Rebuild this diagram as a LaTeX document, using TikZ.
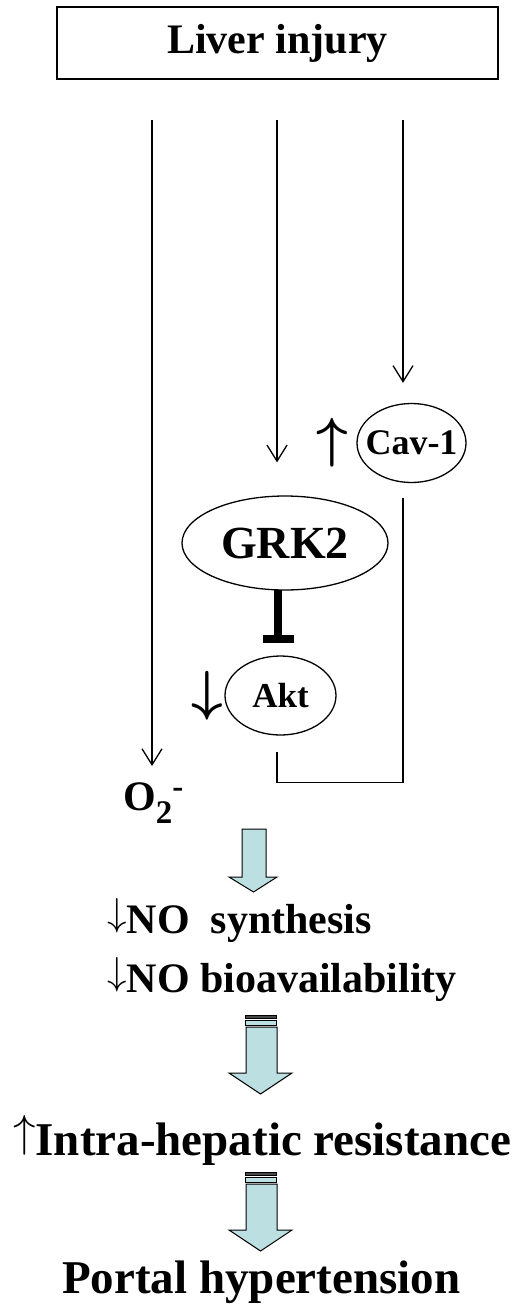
\documentclass[tikz,border=0pt]{standalone}
\usepackage{fontspec}
\setmainfont{Liberation Serif}
\usetikzlibrary{positioning, arrows.meta, shapes.geometric, calc}
\definecolor{paleblue}{RGB}{188, 223, 225}
\definecolor{stripegray}{RGB}{72, 72, 72}
\newcommand{\fallmark}{\raisebox{7.5pt}{\normalsize\scalebox{3.9}{$\downarrow$}}}
\newcommand{\risemark}{\raisebox{8.5pt}{\normalsize\scalebox{4.5}{$\uparrow$}}}

\begin{document}
\begin{tikzpicture}[x=1pt, y=-1pt,
    bigtext/.style={font=\fontsize{42}{48}\selectfont\bfseries, inner sep=0pt},
    hugetext/.style={font=\fontsize{47}{52}\selectfont\bfseries, inner sep=0pt},
    moltext/.style={font=\fontsize{36}{40}\selectfont\bfseries, inner sep=0pt},
    mol/.style={ellipse, draw, line width=1.3pt, inner sep=0pt},
    arrow/.style={-{Straight Barb[length=16pt, width=20pt, line width=1.3pt]}, line width=1.3pt},
    line/.style={line width=1.3pt},
    updown/.style={font=\normalsize\boldmath, inner sep=0pt},
    inhibit/.style={-{Bar[width=31pt]}, line width=8pt},
    blockarrow/.style={draw, fill=paleblue, line width=1pt, line join=miter}
]
    \useasboundingbox (0,0) rectangle (521,1306);

    % Top box
    \node[draw, line width=1.8pt, minimum width=441pt, minimum height=72pt, bigtext] (injury) at (277.5,43) {Liver injury};

    % Molecules
    \node[mol, minimum width=109pt, minimum height=79pt, label={[moltext]center:Cav-1}] (cav) at (411.5,443) {};
    \node[mol, minimum width=206pt, minimum height=94pt, label={[moltext, font=\fontsize{46}{50}\selectfont\bfseries]center:GRK2}] (grk) at (285,543) {};
    \node[mol, minimum width=111pt, minimum height=79pt, label={[moltext, font=\fontsize{35}{40}\selectfont\bfseries]center:Akt}] (akt) at (280.5,695.5) {};
    \node[updown] (cavup) at (332,443) {\scalebox{5.5}{$\uparrow$}};
    \node[updown] (aktdown) at (207,696) {\scalebox{5.5}{$\downarrow$}};
    \node[bigtext, anchor=base west] (superox) at (123,810) {O\raisebox{-13pt}{\fontsize{33}{33}\selectfont 2}\raisebox{13pt}{\fontsize{33}{33}\selectfont -}};

    % Arrows from liver injury
    \coordinate (s1) at (152,120);
    \coordinate (s2) at (277,120);
    \coordinate (s3) at (403,120);
    \draw[arrow, shorten >=16pt] (s1) -- (s1 |- superox.north);
    \draw[arrow, shorten >=33pt] (s2) -- (s2 |- grk.north);
    \draw[arrow, shorten >=20pt] (s3) -- (s3 |- cav.north);

    % GRK2 inhibits Akt, Akt feeds back to Cav-1 branch
    \draw[inhibit] (278,590) -- ($(akt.north)+(-2.5,-12)$);
    \draw[line] ($(s3 |- cav.south)+(0,15)$) -- ($(s3 |- cav.south)+(0,299)$) -| ($(s2 |- akt.south)+(0,16)$);

    % Outcome chain
    \node[bigtext, anchor=base west] (nosyn) at (107,933) {\fallmark NO\ \ synthesis};
    \node[bigtext, anchor=base west] (nobio) at (107,992) {\fallmark NO bioavailability};
    \node[hugetext, anchor=base west] (resist) at (13,1155) {\risemark Intra-hepatic resistance};
    \node[hugetext, anchor=base west] (portal) at (62,1293) {Portal hypertension};

    \draw[blockarrow] (242,829) -- (266,829) -- (266,877) -- (277,877) -- (253.5,892) -- (229,877) -- (242,877) -- cycle;
    \foreach \t in {1015,1172} {
        \draw[blockarrow, fill=stripegray, line width=0.8pt] (245,\t) rectangle (276.5,\t+3);
        \draw[blockarrow, line width=0.8pt] (245,\t+5) rectangle (276.5,\t+10);
        \draw[blockarrow] (246,\t+12) -- (277,\t+12) -- (277,\t+58) -- (292,\t+58) -- (260.5,\t+79) -- (229,\t+58) -- (246,\t+58) -- cycle;
    }
\end{tikzpicture}
\end{document}
